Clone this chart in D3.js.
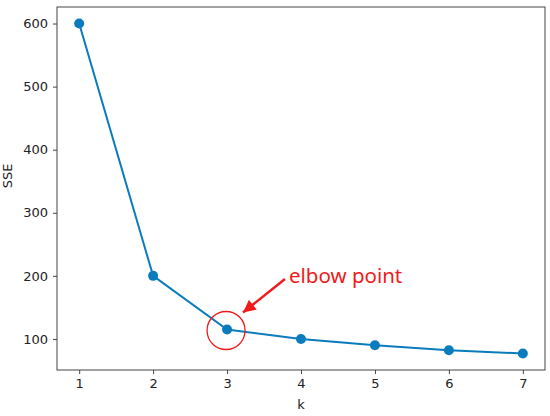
<!DOCTYPE html>
<html><head><meta charset="utf-8">
<script src="https://cdn.jsdelivr.net/npm/d3@7"></script>
<style>body{margin:0;background:#fff}</style>
</head><body>
<svg id="c" width="550" height="416"></svg>
<script>
const kValues = [1, 2, 3, 4, 5, 6, 7];
const sseValues = [600, 200, 115, 100, 90, 82, 77];
const xTicks = [1, 2, 3, 4, 5, 6, 7];
const yTicks = [100, 200, 300, 400, 500, 600];
const elbowK = 3;
const annotationText = "elbow point";

const svg = d3.select("#c");
const m = {l: 57, r: 5, t: 7, b: 46};
const W = 550, H = 416;
const x = d3.scaleLinear().domain([0.7, 7.3]).range([m.l, W - m.r]);
const y = d3.scaleLinear().domain([50.8, 626.2]).range([H - m.b, m.t]);
const color = "#0a7bbd";
const font = "DejaVu Sans, sans-serif";

const xa = svg.append("g").attr("transform", `translate(0,${H - m.b})`)
  .call(d3.axisBottom(x).tickValues(xTicks).tickFormat(d3.format("d")).tickSizeOuter(0).tickSize(4).tickPadding(5));
const ya = svg.append("g").attr("transform", `translate(${m.l},0)`)
  .call(d3.axisLeft(y).tickValues(yTicks).tickFormat(d3.format("d")).tickSizeOuter(0).tickSize(4).tickPadding(5));
[xa, ya].forEach(a => {
  a.selectAll("text").attr("font-family", font).attr("font-size", 13).attr("fill", "#222");
  a.selectAll("line").attr("stroke", "#444");
  a.select(".domain").remove();
});
svg.append("rect").attr("x", m.l).attr("y", m.t).attr("width", W - m.r - m.l).attr("height", H - m.b - m.t)
  .attr("fill", "none").attr("stroke", "#444").attr("stroke-width", 1);

const data = kValues.map((k, i) => ({k, v: sseValues[i]}));
svg.append("path").datum(data)
  .attr("d", d3.line().x(d => x(d.k)).y(d => y(d.v)))
  .attr("fill", "none").attr("stroke", color).attr("stroke-width", 2);
svg.selectAll("circle.pt").data(data).enter().append("circle").attr("class", "pt")
  .attr("cx", d => x(d.k)).attr("cy", d => y(d.v)).attr("r", 5).attr("fill", color);

svg.append("text").attr("x", (m.l + W - m.r) / 2).attr("y", 409).attr("text-anchor", "middle")
  .attr("font-family", font).attr("font-size", 13).attr("fill", "#222").text("k");
svg.append("text").attr("transform", `translate(12,176) rotate(-90)`).attr("text-anchor", "middle")
  .attr("font-family", font).attr("font-size", 13).attr("fill", "#222").text("SSE");

// annotation
const ex = x(elbowK), ey = y(sseValues[kValues.indexOf(elbowK)]);
svg.append("circle").attr("cx", ex - 1).attr("cy", ey + 1).attr("r", 19)
  .attr("fill", "none").attr("stroke", "#f01a1a").attr("stroke-width", 1.3);
const defs = svg.append("defs");
defs.append("marker").attr("id", "ah").attr("viewBox", "0 0 10 10").attr("refX", 10).attr("refY", 5)
  .attr("markerWidth", 5.5).attr("markerHeight", 5).attr("markerUnits", "strokeWidth").attr("orient", "auto")
  .append("path").attr("d", "M0,0 L10,5 L0,10 z").attr("fill", "#f01a1a");
svg.append("line").attr("x1", 285).attr("y1", 279).attr("x2", ex + 16).attr("y2", ey - 17)
  .attr("stroke", "#f01a1a").attr("stroke-width", 2.5).attr("marker-end", "url(#ah)");
svg.append("text").attr("x", 289).attr("y", 283).attr("font-family", "Noto Sans, sans-serif")
  .attr("font-size", 20.5).attr("fill", "#f01a1a").text(annotationText);
</script>
</body></html>
